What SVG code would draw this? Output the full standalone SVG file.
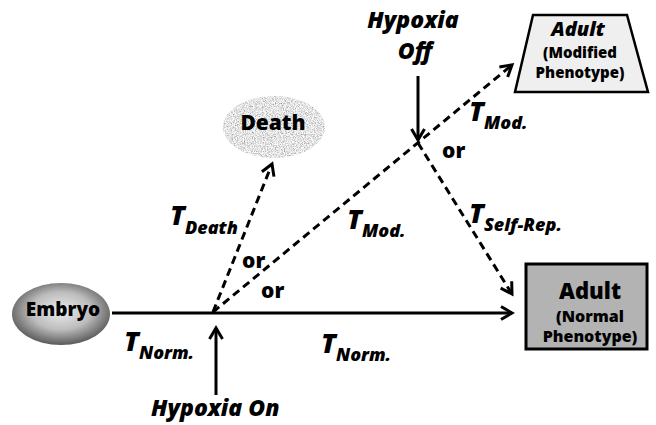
<svg xmlns="http://www.w3.org/2000/svg" width="656" height="425" viewBox="0 0 656 425">
<style>
  text { font-family: "Open Sans", "Liberation Sans", sans-serif; font-weight: 800; fill: #000; }
  .it { font-style: italic; }
  .mid { text-anchor: middle; }
  .T { font-size: 27px; font-style: italic; }
  .sub { font-size: 18px; font-style: italic; }
  .or { font-size: 21px; }
  .hyp { font-size: 23px; font-style: italic; }
  .solid { stroke: #000; stroke-width: 3; fill: none; }
  .dash { stroke: #000; stroke-width: 3; fill: none; stroke-dasharray: 8 5; }
</style>
<defs>
  <marker id="ah" markerWidth="20" markerHeight="20" refX="13" refY="8" orient="auto" markerUnits="userSpaceOnUse" overflow="visible">
    <path d="M2,1.5 L13,8 L2,14.5" fill="none" stroke="#000" stroke-width="3"/>
  </marker>
  <radialGradient id="embryoGrad" cx="50%" cy="45%" r="55%">
    <stop offset="0" stop-color="#ececec"/>
    <stop offset="0.55" stop-color="#bdbdbd"/>
    <stop offset="1" stop-color="#5a5a5a"/>
  </radialGradient>
  <filter id="speck" x="0" y="0" width="1" height="1">
    <feTurbulence type="fractalNoise" baseFrequency="0.9" numOctaves="2" seed="4" result="n"/>
    <feColorMatrix in="n" type="matrix" values="1.3 0 0 0 0.12  1.3 0 0 0 0.12  1.3 0 0 0 0.12  0 0 0 0 1" result="g"/>
    <feComposite in="g" in2="SourceGraphic" operator="in"/>
  </filter>
</defs>

<g id="connectors">
  <line class="solid" x1="112" y1="313" x2="512" y2="313" marker-end="url(#ah)"/>
  <line class="dash" x1="213" y1="312" x2="272" y2="164" marker-end="url(#ah)"/>
  <line class="dash" x1="213" y1="312" x2="512" y2="65" marker-end="url(#ah)"/>
  <line class="dash" x1="418" y1="143" x2="512" y2="294" marker-end="url(#ah)"/>
  <line class="solid" x1="216" y1="395" x2="216" y2="328" marker-end="url(#ah)"/>
  <line class="solid" x1="418" y1="76" x2="418" y2="140" marker-end="url(#ah)"/>
</g>

<g id="embryo">
  <ellipse cx="61" cy="314" rx="49" ry="31" fill="url(#embryoGrad)"/>
  <text class="mid" x="63" y="316" font-size="19">Embryo</text>
</g>

<g id="death">
  <ellipse cx="274" cy="127" rx="51" ry="31" fill="#ccc" filter="url(#speck)"/>
  <text class="mid" x="273" y="130" font-size="21">Death</text>
</g>

<g id="adult-modified">
  <path d="M533,15 L627,15 L648,92 L515,92 Z" fill="#efefef" stroke="#000" stroke-width="2.5"/>
  <text class="mid it" x="578" y="36" font-size="20">Adult</text>
  <text class="mid" x="580" y="58" font-size="15">(Modified</text>
  <text class="mid" x="580" y="78" font-size="15">Phenotype)</text>
</g>

<g id="adult-normal">
  <rect x="526" y="264" width="121" height="85" fill="#b3b3b3" stroke="#000" stroke-width="3"/>
  <text class="mid" x="590" y="299" font-size="22">Adult</text>
  <text class="mid" x="590" y="322" font-size="16">(Normal</text>
  <text class="mid" x="590" y="342" font-size="16">Phenotype)</text>
</g>

<g id="hypoxia-on">
  <text class="hyp" x="151" y="416">Hypoxia On</text>
</g>

<g id="hypoxia-off">
  <text class="hyp mid" x="413" y="28">Hypoxia</text>
  <text class="hyp mid" x="415" y="59">Off</text>
</g>

<g id="labels">
  <text class="T" x="124" y="351">T<tspan class="sub" dy="8">Norm.</tspan></text>
  <text class="T" x="321" y="353">T<tspan class="sub" dy="8">Norm.</tspan></text>
  <text class="T" x="170" y="225">T<tspan class="sub" dy="9">Death</tspan></text>
  <text class="T" x="347" y="229">T<tspan class="sub" dy="8">Mod.</tspan></text>
  <text class="T" x="469" y="121">T<tspan class="sub" dy="8">Mod.</tspan></text>
  <text class="T" x="469" y="223">T<tspan class="sub" dy="8">Self-Rep.</tspan></text>
  <text class="or" x="242" y="268">or</text>
  <text class="or" x="261" y="298">or</text>
  <text class="or" x="442" y="158">or</text>
</g>
</svg>
